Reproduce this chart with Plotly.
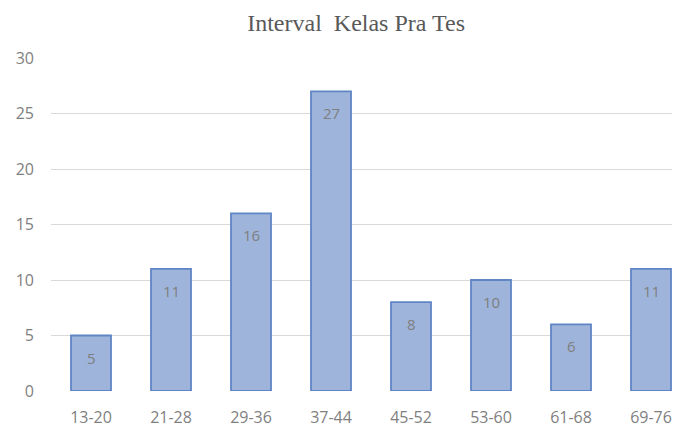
import plotly.graph_objects as go

categories = ["13-20", "21-28", "29-36", "37-44", "45-52", "53-60", "61-68", "69-76"]
values = [5, 11, 16, 27, 8, 10, 6, 11]
y_ticks = [0, 5, 10, 15, 20, 25, 30]

fig = go.Figure()
fig.add_trace(go.Bar(
    x=list(range(len(categories))),
    y=values,
    width=0.5,
    marker=dict(color="#9EB4DA", line=dict(color="#5F85C4", width=1.8)),
    hoverinfo="skip",
))

for i, v in enumerate(values):
    fig.add_annotation(x=i, y=v, text=str(v), showarrow=False, yshift=-22,
                       font=dict(family="Open Sans", size=15, color="#7F7F7F"))

fig.update_layout(
    width=672, height=420,
    margin=dict(l=43, r=0, t=50, b=37),
    paper_bgcolor="white", plot_bgcolor="white",
    title=dict(text="Interval  Kelas Pra Tes", x=0.518, xanchor="center", y=0.965, yanchor="middle",
               font=dict(family="Liberation Serif", size=24, color="#595959")),
    xaxis=dict(range=[-0.5, 7.3625], tickmode="array", tickvals=list(range(len(categories))),
               ticktext=categories, showgrid=False, zeroline=False, showline=False,
               tickfont=dict(family="Open Sans", size=16, color="#7F7F7F"), ticks="",
               ticklabelstandoff=15),
    yaxis=dict(range=[0, 30], tickmode="array", tickvals=y_ticks, showgrid=True, gridcolor="#D9D9D9",
               gridwidth=1, zeroline=False, showline=False,
               tickfont=dict(family="Open Sans", size=16, color="#7F7F7F"), ticks="", ticklabelstandoff=16),
    showlegend=False,
)

fig.write_html("out.html")
